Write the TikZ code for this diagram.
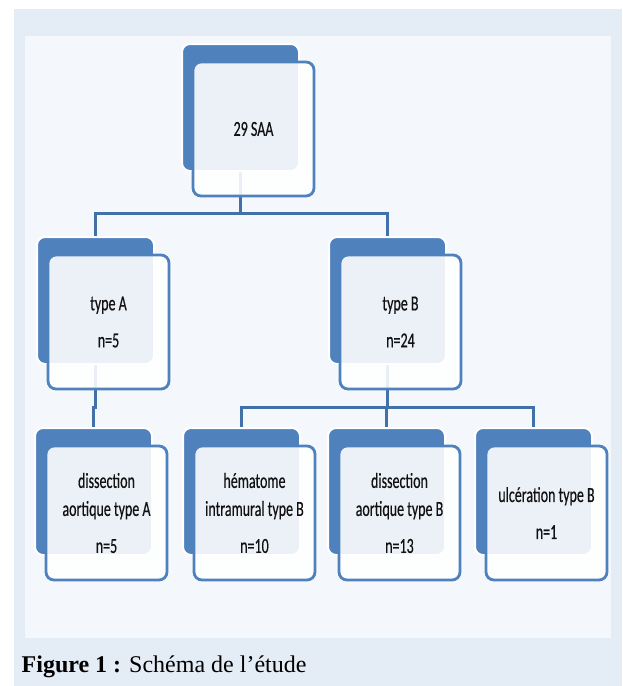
\documentclass[tikz,border=0pt]{standalone}
\usepackage{fontspec}
\setmainfont{Liberation Serif}
\newfontfamily\boxfont[FakeStretch=0.65,FakeBold=0.4]{Carlito}
\definecolor{outerbg}{HTML}{E4ECF5}
\definecolor{innerbg}{HTML}{F4F8FC}
\definecolor{boxblue}{HTML}{4F81BD}
\definecolor{connblue}{HTML}{4270A8}
\definecolor{textdark}{HTML}{111111}
\pgfdeclarelayer{bg}
\pgfdeclarelayer{lines}
\pgfsetlayers{bg,lines,main}
\tikzset{
  backbox/.style={draw=white, line width=2pt, fill=boxblue, rounded corners=8pt,
    minimum width=117pt, minimum height=127pt, inner sep=0pt, outer sep=0pt, anchor=north west},
  frontbox/.style={draw=boxblue, line width=2.8pt, fill=white, fill opacity=0.89, text opacity=1,
    rounded corners=8pt, minimum width=121pt, minimum height=134pt, inner sep=0pt, outer sep=0pt,
    anchor=north west, align=center, text=textdark,
    font=\boxfont\fontsize{21.5}{28}\selectfont},
  conn/.style={draw=connblue, line width=3pt},
}
\newcommand\sabox[4]{%
  \node[backbox] (#1-b) at (#2,#3) {};
  \node[frontbox] (#1) at ([xshift=11pt,yshift=-18pt]#1-b.north west) {#4};
}
\begin{document}
\begin{tikzpicture}[x=1pt,y=-1pt]
\useasboundingbox (0,0) rectangle (622,686);
\begin{pgfonlayer}{bg}
  \fill[white] (0,0) rectangle (622,686);
  \fill[outerbg] (14,9) rectangle (622,686);
  \fill[innerbg] (25,36) rectangle (611,638);
\end{pgfonlayer}

\sabox{root}{182}{44}{29 SAA}
\sabox{typeA}{37}{237}{type A\\[9pt]n=5}
\sabox{typeB}{329}{237}{type B\\[9pt]n=24}
\sabox{dA}{35}{428}{dissection\\aortique type A\\[9pt]n=5}
\sabox{hem}{183}{428}{hématome\\intramural type B\\[9pt]n=10}
\sabox{dB}{328}{428}{dissection\\aortique type B\\[9pt]n=13}
\sabox{ulc}{475}{428}{ulcération type B\\[9pt]n=1}

\coordinate (bus1) at (0,213);
\coordinate (bus2) at (0,407);

\begin{pgfonlayer}{lines}
  \draw[conn] (root-b.center) -- (root-b.center |- bus1);
  \draw[conn] (typeA-b.center) -- (typeA-b.center |- bus1) -- (typeB-b.center |- bus1) -- (typeB-b.center);
  \draw[conn] (typeA-b.center) -- (typeA-b.center |- bus2) -- (dA-b.center |- bus2) -- (dA-b.center);
  \draw[conn] (typeB-b.center) -- (typeB-b.center |- bus2);
  \draw[conn] (hem-b.center) -- (hem-b.center |- bus2) -- (ulc-b.center |- bus2) -- (ulc-b.center);
  \draw[conn] (dB-b.center) -- (dB-b.center |- bus2);
\end{pgfonlayer}

\node[anchor=base west, inner sep=0pt, font=\fontsize{24}{28}\selectfont] (cap) at (21.5,672)
  {\textbf{Figure 1 :} Schéma de l’étude};
\end{tikzpicture}
\end{document}
